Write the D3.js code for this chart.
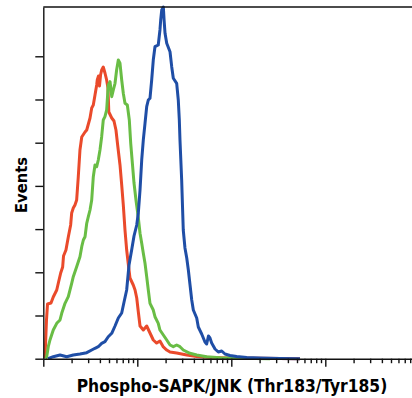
<!DOCTYPE html>
<html><head><meta charset="utf-8">
<script src="https://cdn.jsdelivr.net/npm/d3@7"></script>
<style>body{margin:0;background:#fff}svg{display:block}</style>
</head><body>
<script>
// x values are in decades (log10 of fluorescence intensity), y values in event units (tick = 1)
const redX = [0.018,0.034,0.045,0.082,0.106,0.143,0.160,0.185,0.206,0.215,0.241,0.266,0.291,0.302,0.319,0.337,0.355,0.372,0.390,0.409,0.444,0.462,0.497,0.515,0.532,0.550,0.568,0.574,0.587,0.598,0.609,0.621,0.638,0.656,0.674,0.688,0.697,0.728,0.752,0.773,0.791,0.816,0.834,0.851,0.869,0.887,0.904,0.922,0.957,0.976,0.994,1.011,1.029,1.064,1.100,1.135,1.170,1.206,1.241,1.277,1.313,1.348,1.419,1.526,1.632,1.773,1.986,2.305,2.731];
const redY = [0.016,0.896,1.266,1.289,1.428,1.590,1.752,1.984,2.123,2.377,2.516,2.817,3.095,3.373,3.488,3.558,3.674,4.206,4.831,5.132,5.248,5.294,5.572,5.803,5.873,6.104,6.336,6.451,6.544,6.313,6.567,6.683,6.752,6.613,6.451,6.266,5.711,5.572,5.502,5.294,4.947,4.484,4.021,3.558,2.979,2.516,2.192,1.868,1.706,1.590,1.405,1.081,0.757,0.664,0.757,0.595,0.433,0.363,0.410,0.271,0.201,0.155,0.132,0.086,0.051,0.028,0.016,0.009,0];
const greenX = [0.026,0.036,0.053,0.071,0.106,0.143,0.178,0.196,0.231,0.266,0.302,0.319,0.355,0.390,0.409,0.426,0.444,0.462,0.479,0.497,0.515,0.532,0.550,0.568,0.585,0.603,0.621,0.638,0.656,0.674,0.691,0.710,0.728,0.745,0.763,0.780,0.798,0.816,0.834,0.851,0.869,0.894,0.915,0.930,0.949,0.965,0.986,1.011,1.029,1.047,1.064,1.082,1.100,1.117,1.135,1.170,1.188,1.223,1.241,1.277,1.313,1.348,1.383,1.419,1.454,1.489,1.560,1.632,1.738,1.880,2.093,2.412];
const greenY = [0,0.046,0.278,0.433,0.664,0.819,0.896,1.051,1.282,1.435,1.745,1.898,2.130,2.361,2.593,2.748,2.824,3.134,3.287,3.442,3.674,4.213,4.484,4.444,4.600,4.831,5.139,5.525,5.602,5.757,6.336,6.412,6.065,6.220,6.375,6.683,6.914,6.838,6.451,6.144,5.912,5.873,5.525,4.986,4.484,4.067,3.674,3.257,2.903,2.671,2.440,2.208,1.898,1.590,1.282,1.127,0.972,0.819,0.664,0.549,0.433,0.317,0.278,0.317,0.278,0.201,0.125,0.086,0.046,0.023,0.009,0];
const blueX = [0.050,0.106,0.178,0.249,0.319,0.390,0.462,0.515,0.550,0.585,0.621,0.656,0.691,0.728,0.763,0.798,0.834,0.859,0.887,0.912,0.940,0.965,0.994,1.011,1.029,1.047,1.064,1.082,1.100,1.117,1.135,1.153,1.170,1.188,1.223,1.241,1.249,1.260,1.277,1.285,1.295,1.313,1.348,1.366,1.383,1.419,1.436,1.447,1.454,1.472,1.481,1.489,1.507,1.526,1.543,1.561,1.579,1.596,1.632,1.649,1.685,1.720,1.738,1.757,1.773,1.791,1.827,1.862,1.898,1.933,1.986,2.057,2.164,2.305,2.518,2.731];
const blueY = [0,0.046,0.086,0.046,0.086,0.109,0.139,0.201,0.241,0.278,0.356,0.394,0.509,0.588,0.757,0.942,1.058,1.313,1.590,2.169,2.516,2.840,3.095,3.373,3.905,4.600,5.063,5.449,5.833,5.988,6.028,6.451,6.914,7.222,7.262,7.609,7.840,8.072,8.140,7.840,7.532,7.301,7.106,6.759,6.491,6.375,5.988,5.525,5.063,4.137,3.519,2.979,2.563,2.331,2.053,1.706,1.359,1.127,0.942,0.734,0.572,0.387,0.340,0.525,0.479,0.363,0.225,0.155,0.178,0.109,0.074,0.051,0.028,0.016,0.005,0];
const yTicks = [0,1,2,3,4,5,6,7];
const xLabel = "Phospho-SAPK/JNK (Thr183/Tyr185)";
const yLabel = "Events";

const W = 412, H = 398;
const mLeft = 43.3, mBottom = 358.7, mTop = 7, mRight = 419.3;
const svg = d3.select("body").append("svg").attr("width", W).attr("height", H);

const x = d3.scaleLog().domain([1, 1e4]).range([mLeft, mRight]);
const y = d3.scaleLinear().domain([0, 8.141]).range([mBottom, mTop]);

const series = [
  {xs: redX, ys: redY, color: "#ea4a2b"},
  {xs: greenX, ys: greenY, color: "#69bd45"},
  {xs: blueX, ys: blueY, color: "#1f4ea6"}
];
const line = d3.line().x(d => x(Math.pow(10, d[0]))).y(d => y(d[1]));
const g = svg.append("g");
series.forEach(s => {
  g.append("path").datum(s.xs.map((v, i) => [v, s.ys[i]]))
    .attr("d", line).attr("fill", "none").attr("stroke", s.color)
    .attr("stroke-width", 3).attr("stroke-linejoin", "round");
});

// y axis
const ya = svg.append("g").attr("transform", `translate(${mLeft},0)`)
  .call(d3.axisLeft(y).tickValues(yTicks).tickSize(8).tickSizeOuter(0).tickFormat(""));
ya.selectAll("path, line").attr("stroke", "#111").attr("stroke-width", 1.4);

// x axis (log)
const xTicks = x.ticks();
const xa = svg.append("g").attr("transform", `translate(0,${mBottom})`)
  .call(d3.axisBottom(x).tickValues(xTicks).tickSize(7).tickSizeOuter(0).tickFormat(""));
xa.selectAll(".tick line").attr("y2", d => Math.abs(Math.log10(d) - Math.round(Math.log10(d))) < 1e-9 ? 8 : 4.5);
xa.selectAll("path, line").attr("stroke", "#111").attr("stroke-width", 1.4);

// top frame
svg.append("line").attr("x1", mLeft).attr("x2", W).attr("y1", y(8.141)).attr("y2", y(8.141))
  .attr("stroke", "#111").attr("stroke-width", 1.4);

const fam = "'Liberation Sans Narrow','DejaVu Sans Condensed',sans-serif";
function fitText(sel, target, base) {
  sel.attr("font-size", base);
  const len = sel.node().getComputedTextLength();
  sel.attr("font-size", Math.min(20, base * target / len));
}
const xt = svg.append("text").attr("x", 232).attr("y", 391.5).attr("text-anchor", "middle")
  .attr("font-family", fam).attr("font-weight", "bold").text(xLabel);
fitText(xt, 311, 18);
const yt = svg.append("text").attr("transform", "translate(27,185) rotate(-90)").attr("text-anchor", "middle")
  .attr("font-family", fam).attr("font-weight", "bold").text(yLabel);
fitText(yt, 56, 18);
</script>
</body></html>
